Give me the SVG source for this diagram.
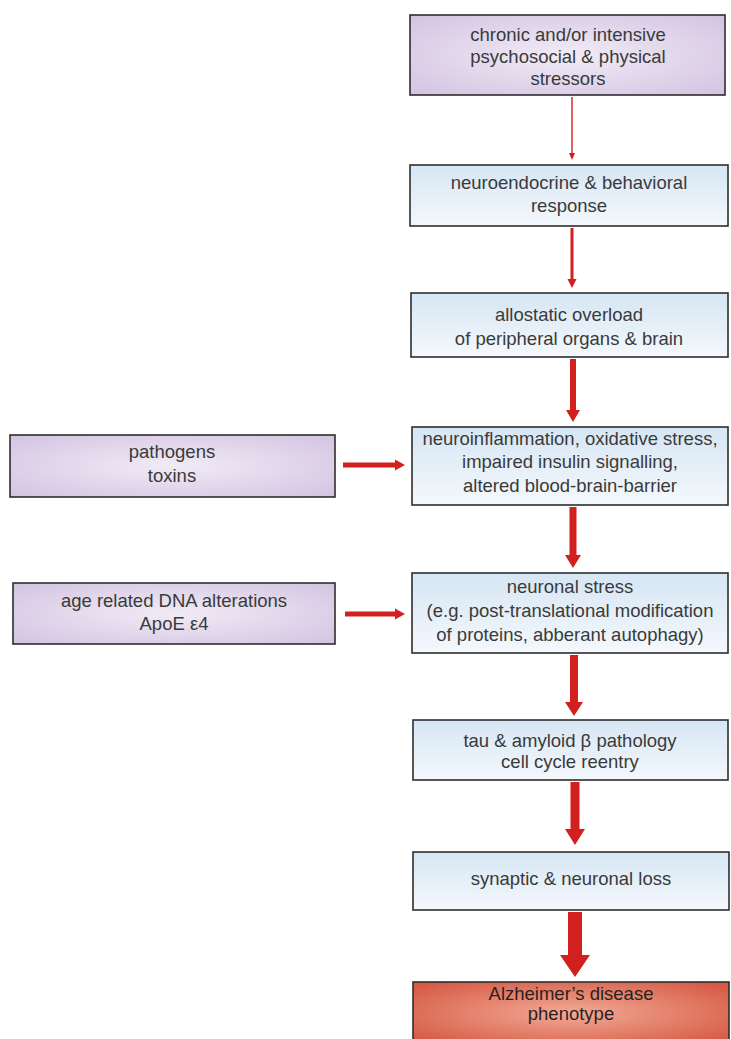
<svg xmlns="http://www.w3.org/2000/svg" width="731" height="1039" viewBox="0 0 731 1039">
  <defs>
    <radialGradient id="gPurple" cx="50%" cy="50%" r="70%">
      <stop offset="0" stop-color="#f1ebf6"/>
      <stop offset="1" stop-color="#d3c3e1"/>
    </radialGradient>
    <linearGradient id="gBlue" x1="0" y1="0" x2="0" y2="1">
      <stop offset="0" stop-color="#d6e6f4"/>
      <stop offset="1" stop-color="#f4f8fc"/>
    </linearGradient>
    <radialGradient id="gRed" cx="50%" cy="50%" r="65%">
      <stop offset="0" stop-color="#f2aa96"/>
      <stop offset="1" stop-color="#d65a44"/>
    </radialGradient>
  </defs>
  <style>
    .box { stroke: #2e2e2e; stroke-width: 1.6; }
    .purple { fill: url(#gPurple); }
    .blue { fill: url(#gBlue); }
    .red { fill: url(#gRed); }
    text { font-family: "Liberation Sans", Arial, sans-serif; font-size: 18.5px; fill: #3a3a3a; text-anchor: middle; }
    .dark { fill: #2a2222; }
    .arrow { fill: #d2201e; }
  </style>
  <rect width="731" height="1039" fill="#ffffff"/>

  <g id="stressors">
    <rect class="box purple" x="410" y="15" width="315" height="80"/>
    <text x="568" y="41">chronic and/or intensive</text>
    <text x="568" y="63">psychosocial &amp; physical</text>
    <text x="568" y="85">stressors</text>
  </g>

  <g id="response">
    <rect class="box blue" x="410" y="165" width="318" height="61"/>
    <text x="569" y="189">neuroendocrine &amp; behavioral</text>
    <text x="569" y="212">response</text>
  </g>

  <g id="allostatic">
    <rect class="box blue" x="411" y="293" width="317" height="64"/>
    <text x="569" y="321">allostatic overload</text>
    <text x="569" y="345">of peripheral organs &amp; brain</text>
  </g>

  <g id="inflammation">
    <rect class="box blue" x="412" y="427" width="316" height="78"/>
    <text x="570" y="445">neuroinflammation, oxidative stress,</text>
    <text x="570" y="468">impaired insulin signalling,</text>
    <text x="570" y="492">altered blood-brain-barrier</text>
  </g>

  <g id="pathogens">
    <rect class="box purple" x="10" y="435" width="325" height="62"/>
    <text x="172" y="458">pathogens</text>
    <text x="172" y="482">toxins</text>
  </g>

  <g id="neuronal-stress">
    <rect class="box blue" x="412" y="573" width="316" height="80"/>
    <text x="570" y="593">neuronal stress</text>
    <text x="570" y="617">(e.g. post-translational modification</text>
    <text x="570" y="641">of proteins, abberant autophagy)</text>
  </g>

  <g id="dna">
    <rect class="box purple" x="13" y="583" width="322" height="61"/>
    <text x="174" y="607">age related DNA alterations</text>
    <text x="174" y="630">ApoE ε4</text>
  </g>

  <g id="pathology">
    <rect class="box blue" x="413" y="720" width="315" height="60"/>
    <text x="570" y="747">tau &amp; amyloid β pathology</text>
    <text x="570" y="768">cell cycle reentry</text>
  </g>

  <g id="loss">
    <rect class="box blue" x="413" y="852" width="316" height="58"/>
    <text x="571" y="885">synaptic &amp; neuronal loss</text>
  </g>

  <g id="phenotype">
    <rect class="box red" x="413" y="982" width="316" height="62"/>
    <text class="dark" x="571" y="1000">Alzheimer’s disease</text>
    <text class="dark" x="571" y="1020">phenotype</text>
  </g>

  <g id="connectors">
    <!-- vertical chain, shafts growing thicker downward -->
    <polygon class="arrow" points="571.3,97 572.7,97 572.7,153 575,153 572,160 569,153 571.3,153"/>
    <polygon class="arrow" points="570.5,228 573.5,228 573.5,279 576.5,279 572,288 567.5,279 570.5,279"/>
    <polygon class="arrow" points="570,359 576,359 576,410 580,410 573,422 566,410 570,410"/>
    <polygon class="arrow" points="569.5,507 576.5,507 576.5,555 581,555 573,568 565,555 569.5,555"/>
    <polygon class="arrow" points="570,655 578,655 578,702 583,702 574,716 565,702 570,702"/>
    <polygon class="arrow" points="570.5,782 579.5,782 579.5,829 585,829 575,845 565,829 570.5,829"/>
    <polygon class="arrow" points="568,912 582,912 582,955 590,955 575,977 560,955 568,955"/>
    <!-- side inputs -->
    <polygon class="arrow" points="343,462.5 395,462.5 395,459.5 405,465 395,470.5 395,467.5 343,467.5"/>
    <polygon class="arrow" points="345,611.5 395,611.5 395,608.5 405,614 395,619.5 395,616.5 345,616.5"/>
  </g>
</svg>
